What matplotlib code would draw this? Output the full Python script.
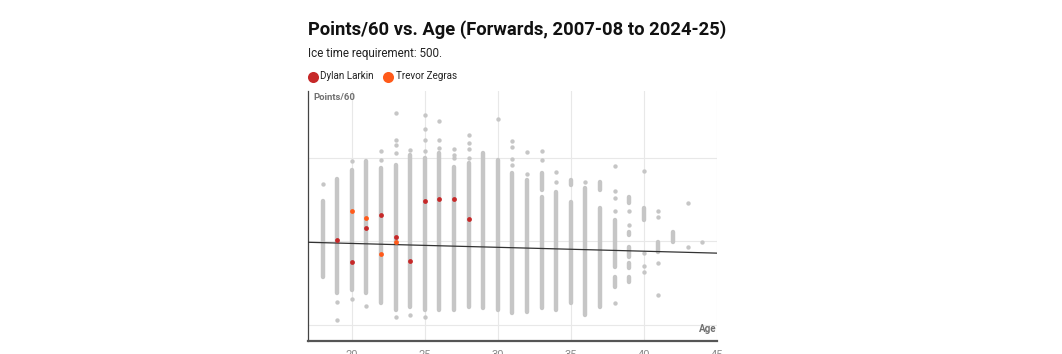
import matplotlib
matplotlib.use("Agg")
import matplotlib.pyplot as plt

plt.rcParams['font.family'] = ['Roboto', 'DejaVu Sans']

# dense stretches of the grey columns (age, low, high)
band_age = [18, 19, 20, 21, 22, 23, 24, 25, 26, 27, 28, 29, 30, 31, 32,
            33, 33, 34, 35, 35, 36, 37, 37, 38, 38,
            39, 39, 39, 39, 39, 40, 41, 42]
band_lo = [1.57, 1.38, 1.42, 1.38, 1.26, 1.18, 1.22, 1.18, 1.18, 1.18, 1.22, 1.20, 1.18, 1.14, 1.16,
           1.20, 2.62, 1.18, 1.26, 2.68, 1.12, 1.22, 2.62, 1.69, 1.46,
           2.46, 2.08, 1.81, 1.68, 1.51, 2.26, 1.87, 1.99]
band_hi = [2.48, 2.75, 2.86, 2.96, 2.88, 2.92, 3.04, 3.00, 3.06, 2.89, 2.94, 3.06, 2.98, 2.82, 2.74,
           2.53, 2.82, 2.59, 2.47, 2.74, 2.64, 2.40, 2.71, 2.26, 1.57,
           2.53, 2.11, 1.93, 1.74, 1.57, 2.40, 1.99, 2.11]

# single scattered players
dot_age = [18, 19, 19, 20, 20, 21, 22, 22, 23, 23, 23, 23, 23, 24, 24,
           25, 25, 25, 25, 25, 26, 26, 26, 27, 27, 27, 28, 28, 28, 28,
           30, 31, 31, 31, 31, 32, 32, 33, 33, 34, 34, 36,
           38, 38, 38, 38, 38, 39, 39, 40, 40, 40, 40,
           41, 41, 41, 41, 43, 43, 44]
dot_val = [2.69, 1.28, 1.06, 2.96, 1.31, 1.23, 3.08, 2.98, 3.54, 3.21, 3.16, 3.06, 1.10, 3.10, 1.12,
           3.51, 3.35, 3.22, 3.08, 1.10, 3.44, 3.22, 3.12, 3.11, 3.04, 3.00, 3.28, 3.18, 3.11, 3.00,
           3.47, 3.20, 3.13, 2.99, 2.92, 3.07, 2.81, 3.08, 2.98, 2.83, 2.71, 2.71,
           2.90, 2.60, 2.52, 2.36, 1.26, 2.36, 2.20, 2.84, 1.86, 1.71, 1.63,
           2.36, 2.29, 1.74, 1.36, 2.46, 1.93, 1.99]

larkin_age = [19, 20, 21, 22, 23, 24, 25, 26, 27, 28]
larkin_val = [2.02, 1.75, 2.16, 2.32, 2.05, 1.77, 2.49, 2.51, 2.51, 2.27]
zegras_age = [20, 21, 22, 23]
zegras_val = [2.37, 2.28, 1.85, 1.99]

trend_x = [17, 45]
trend_y = [1.99, 1.86]

x_ticks = [20, 25, 30, 35, 40, 45]
y_grid = [1, 2, 3]

grey = "#c6c6c6"
red = "#c62828"
orange = "#ff5a1a"

fig = plt.figure(figsize=(10.62, 3.54), dpi=100)
ax = fig.add_axes([0.290, 0.0367, 0.385, 0.706])

ax.vlines(band_age, band_lo, band_hi, color=grey, linewidth=3.2, capstyle="round", zorder=2)
ax.scatter(dot_age, dot_val, s=10, color=grey, linewidths=0, zorder=2)
ax.plot(trend_x, trend_y, color="#333333", linewidth=0.9, zorder=3)
ax.scatter(larkin_age, larkin_val, s=12, color=red, linewidths=0, zorder=4, label="Dylan Larkin")
ax.scatter(zegras_age, zegras_val, s=12, color=orange, linewidths=0, zorder=4, label="Trevor Zegras")

ax.set_xlim(17, 45)
ax.set_ylim(0.808, 3.80)
ax.set_xticks(x_ticks)
ax.set_yticks(y_grid)
ax.set_yticklabels([])
ax.tick_params(axis="both", length=0)
ax.tick_params(axis="x", pad=6.5, labelsize=8, labelcolor="#8a8a8a")
ax.grid(True, color="#e8e8e8", linewidth=0.8, zorder=0)
ax.set_axisbelow(True)

for side in ["top", "right"]:
    ax.spines[side].set_visible(False)
ax.spines["left"].set_color("#444444")
ax.spines["left"].set_linewidth(0.9)
ax.spines["bottom"].set_color("#555555")
ax.spines["bottom"].set_linewidth(1.6)

ax.text(0.012, 0.993, "Points/60", transform=ax.transAxes, ha="left", va="top",
        fontsize=6.8, fontweight="bold", color="#707070")
ax.text(1.0, 0.03, "Age", transform=ax.transAxes, ha="right", va="bottom",
        fontsize=7, fontweight="bold", color="#707070")

fig.text(0.290, 0.901, "Points/60 vs. Age (Forwards, 2007-08 to 2024-25)",
         fontsize=13.2, fontweight="bold", color="#111111", va="baseline")
fig.text(0.290, 0.838, "Ice time requirement: 500.", fontsize=8.4, color="#222222", va="baseline")

fig.legend(loc="center left", bbox_to_anchor=(0.2907, 0.785), ncol=2, frameon=False,
           markerscale=2.3, handlelength=0.8, handletextpad=0.35, columnspacing=1.1,
           borderaxespad=0, borderpad=0, fontsize=7.1, labelcolor="#222222")

fig.savefig("out.png", dpi=100)
